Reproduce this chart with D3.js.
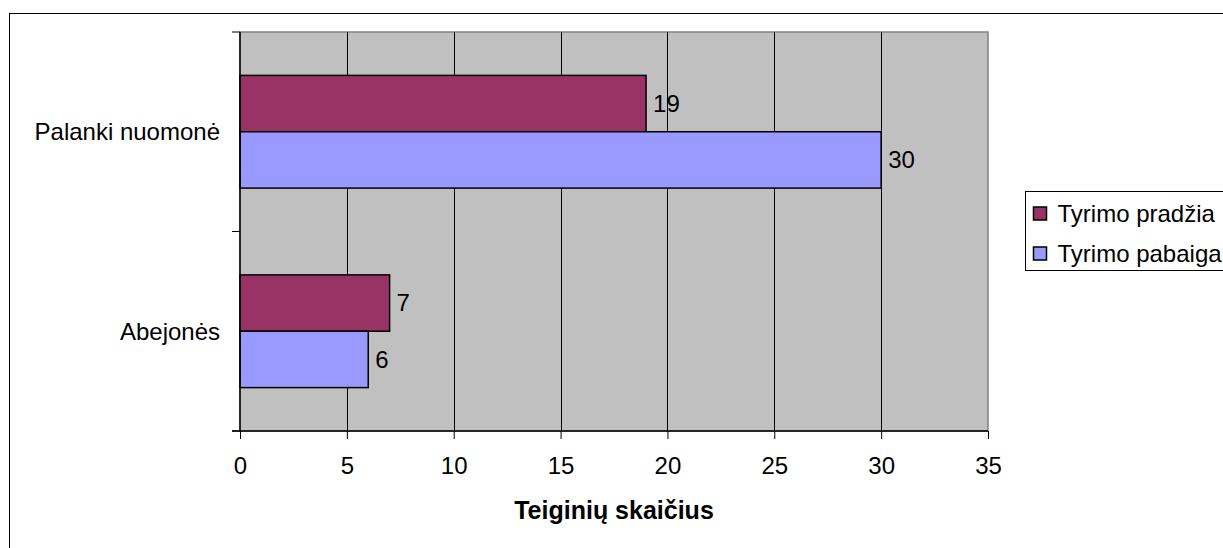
<!DOCTYPE html>
<html>
<head>
<meta charset="utf-8">
<script src="https://cdn.jsdelivr.net/npm/d3@7"></script>
<style>
  html, body { margin: 0; padding: 0; background: #fff; }
  svg { display: block; }
  text { font-family: "Liberation Sans", Arial, sans-serif; fill: #000; }
</style>
</head>
<body>
<svg id="chart" width="1223" height="548"></svg>
<script>
// Data
const categories = ["Palanki nuomonė", "Abejonės"];
const seriesNames = ["Tyrimo pradžia", "Tyrimo pabaiga"];
const startValues = [19, 7];
const endValues = [30, 6];
const xTicks = [0, 5, 10, 15, 20, 25, 30, 35];
const axisTitle = "Teiginių skaičius";
const seriesColors = ["#993366", "#9999FF"];

const seriesValues = [startValues, endValues];
const rows = categories.map((c, i) => ({
  category: c,
  values: seriesNames.map((s, j) => ({ series: s, value: seriesValues[j][i], color: seriesColors[j] }))
}));

const svg = d3.select("#chart");
const fontSize = 24;

// Plot area
const plot = { left: 240, top: 32, right: 988, bottom: 431 };

const x = d3.scaleLinear().domain([0, 35]).range([plot.left, plot.right]);
const y = d3.scaleBand().domain(categories).range([plot.top, plot.bottom]).paddingInner(0).paddingOuter(0);
const yInner = d3.scaleBand().domain(seriesNames).range([0, y.bandwidth()]).paddingInner(0).paddingOuter(0.77);

// Outer chart frame (runs off the right and bottom edges)
svg.append("rect")
  .attr("x", 9.5).attr("y", 13.5)
  .attr("width", 1400).attr("height", 700)
  .attr("fill", "#fff").attr("stroke", "#000").attr("stroke-width", 1);

// Plot background
svg.append("rect")
  .attr("x", plot.left).attr("y", plot.top)
  .attr("width", plot.right - plot.left).attr("height", plot.bottom - plot.top)
  .attr("fill", "#C0C0C0").attr("stroke", "#808080").attr("stroke-width", 1.5);

// Vertical gridlines
svg.append("g")
  .selectAll("line")
  .data(xTicks.filter(t => t > 0 && t < 35))
  .join("line")
  .attr("x1", d => Math.round(x(d)) + 0.5).attr("x2", d => Math.round(x(d)) + 0.5)
  .attr("y1", plot.top).attr("y2", plot.bottom)
  .attr("stroke", "#000").attr("stroke-width", 1);

// Bars
const groups = svg.append("g")
  .selectAll("g")
  .data(rows)
  .join("g")
  .attr("transform", d => `translate(0,${y(d.category)})`);

groups.selectAll("rect")
  .data(d => d.values)
  .join("rect")
  .attr("x", x(0))
  .attr("y", d => yInner(d.series))
  .attr("width", d => x(d.value) - x(0))
  .attr("height", yInner.bandwidth())
  .attr("fill", d => d.color)
  .attr("stroke", "#000").attr("stroke-width", 1.5);

// Value labels
groups.selectAll("text")
  .data(d => d.values)
  .join("text")
  .attr("x", d => x(d.value) + 7)
  .attr("y", d => yInner(d.series) + yInner.bandwidth() / 2)
  .attr("dy", "0.35em")
  .attr("font-size", fontSize)
  .text(d => d.value);

// X axis
const xAxis = svg.append("g")
  .attr("transform", `translate(0,${plot.bottom})`)
  .call(d3.axisBottom(x).tickValues(xTicks).tickSize(8).tickSizeOuter(0).tickPadding(18));
xAxis.select(".domain").remove();
xAxis.append("line")
  .attr("x1", plot.left - 8).attr("x2", plot.right)
  .attr("y1", 0).attr("y2", 0)
  .attr("stroke", "#000").attr("stroke-width", 1.5);
xAxis.selectAll(".tick line").attr("stroke", "#000").attr("stroke-width", 1);
xAxis.selectAll(".tick text")
  .attr("font-family", "Liberation Sans, Arial, sans-serif")
  .attr("font-size", fontSize).attr("fill", "#000");

// Y axis
const yTickPositions = [plot.top, plot.top + y.bandwidth(), plot.bottom];
const yAxis = svg.append("g");
yAxis.append("line")
  .attr("x1", plot.left).attr("x2", plot.left)
  .attr("y1", plot.top).attr("y2", plot.bottom)
  .attr("stroke", "#000").attr("stroke-width", 1.5);
yAxis.selectAll("line.tk")
  .data(yTickPositions)
  .join("line")
  .attr("class", "tk")
  .attr("x1", plot.left - 8).attr("x2", plot.left)
  .attr("y1", d => d).attr("y2", d => d)
  .attr("stroke", "#000").attr("stroke-width", 1);
yAxis.selectAll("text")
  .data(categories)
  .join("text")
  .attr("x", plot.left - 20)
  .attr("y", d => y(d) + y.bandwidth() / 2)
  .attr("dy", "0.35em")
  .attr("text-anchor", "end")
  .attr("font-size", fontSize)
  .text(d => d);

// Axis title
svg.append("text")
  .attr("x", (plot.left + plot.right) / 2)
  .attr("y", 519)
  .attr("text-anchor", "middle")
  .attr("font-size", 25)
  .attr("font-weight", "bold")
  .text(axisTitle);

// Legend
const legend = svg.append("g").attr("transform", "translate(1025.5,191.5)");
legend.append("rect")
  .attr("width", 300).attr("height", 79)
  .attr("fill", "#fff").attr("stroke", "#000").attr("stroke-width", 1);
const items = legend.selectAll("g")
  .data(seriesNames)
  .join("g")
  .attr("transform", (d, i) => `translate(0,${22 + i * 40})`);
items.append("rect")
  .attr("x", 8).attr("y", -6.5)
  .attr("width", 13).attr("height", 13)
  .attr("fill", (d, i) => seriesColors[i])
  .attr("stroke", "#000").attr("stroke-width", 1.5);
items.append("text")
  .attr("x", 32).attr("y", 0)
  .attr("dy", "0.35em")
  .attr("font-size", fontSize)
  .text(d => d);
</script>
</body>
</html>
